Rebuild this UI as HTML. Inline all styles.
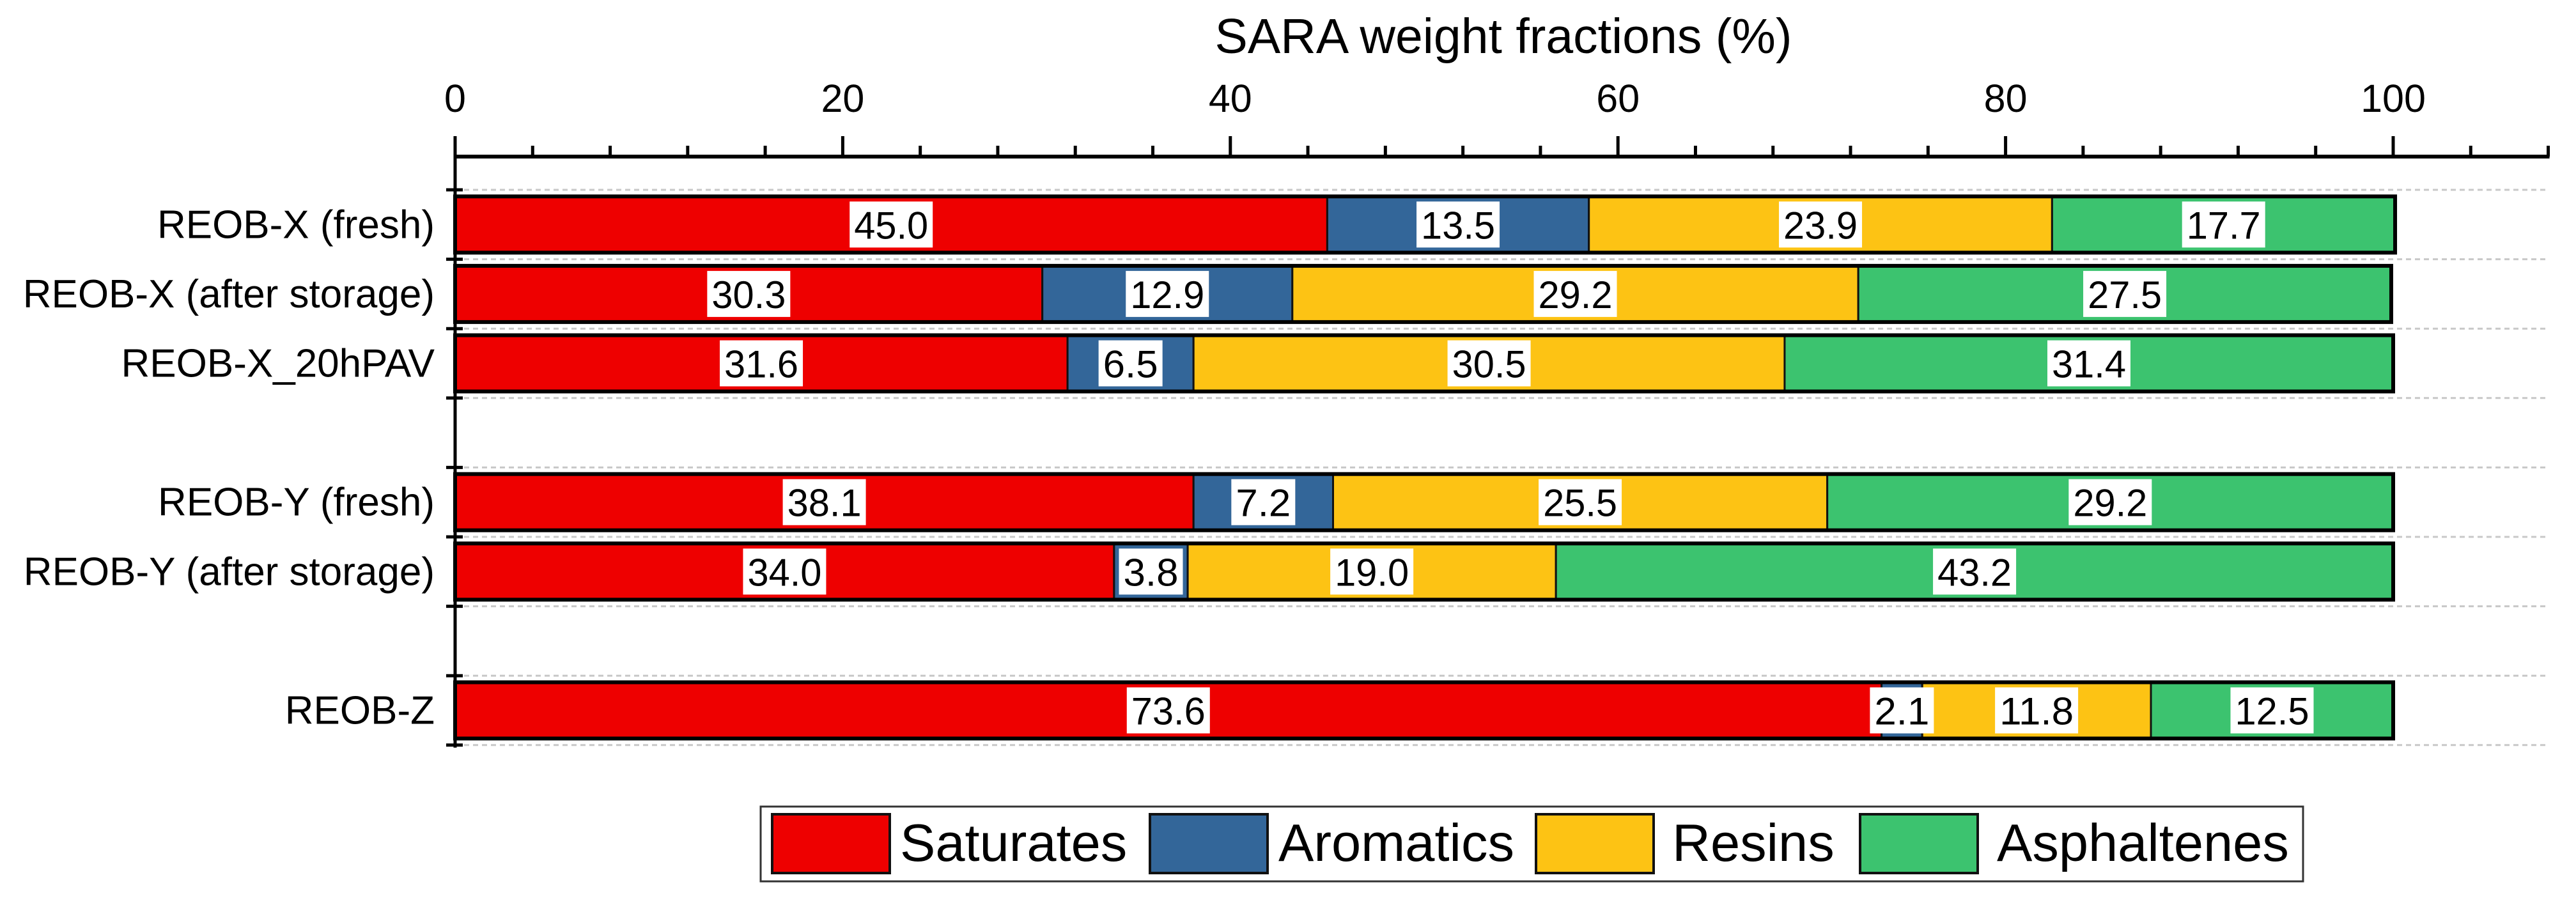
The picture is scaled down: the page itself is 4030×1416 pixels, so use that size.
<!DOCTYPE html>
<html><head><meta charset="utf-8"><style>
html,body{margin:0;padding:0;background:#fff;}
svg{display:block;font-family:"Liberation Sans",Arial,sans-serif;}
</style></head><body>
<svg id="chart" width="4030" height="1416" viewBox="0 0 4030 1416" xmlns="http://www.w3.org/2000/svg">
<text x="2352" y="83" font-size="77" text-anchor="middle">SARA weight fractions (%)</text>
<g id="grid"></g><g id="bars"></g><g id="axes"></g><g id="legend"></g>
</svg>
<script>
const categories = ["REOB-X (fresh)","REOB-X (after storage)","REOB-X_20hPAV","REOB-Y (fresh)","REOB-Y (after storage)","REOB-Z"];
const slots = [1,2,3,5,6,8];
const seriesNames = ["Saturates","Aromatics","Resins","Asphaltenes"];
const saturates = [45.0,30.3,31.6,38.1,34.0,73.6];
const aromatics = [13.5,12.9,6.5,7.2,3.8,2.1];
const resins = [23.9,29.2,30.5,25.5,19.0,11.8];
const asphaltenes = [17.7,27.5,31.4,29.2,43.2,12.5];
const xTicks = [0,20,40,60,80,100];
const colors = ["#EE0000","#336699","#FDC314","#3CC36F"];
const NS="http://www.w3.org/2000/svg";
const X0=712,XS=30.32,Y0=297,YS=108.6,AX=245,XMAX=108;
const xs=v=>X0+v*XS, ys=s=>Y0+(s-0.5)*YS;
function mk(p,tag,at){const e=document.createElementNS(NS,tag);for(const k in at)e.setAttribute(k,at[k]);p.appendChild(e);return e;}
const grid=document.getElementById('grid'),bars=document.getElementById('bars'),axes=document.getElementById('axes'),leg=document.getElementById('legend');
for(let b=0;b<=8;b++){const y=Y0+b*YS;
 const g=mk(grid,'line',{x1:X0,x2:xs(XMAX),y1:y,y2:y,stroke:'#c8c8c8','stroke-width':3,'stroke-dasharray':'8 6'});
 
 
 const t=mk(axes,'line',{x1:X0-14,x2:X0+12,y1:y,y2:y,stroke:'#000','stroke-width':5});
 
 
}
const series=[saturates,aromatics,resins,asphaltenes];
categories.forEach((c,i)=>{
 const yc=ys(slots[i]),h=88;let acc=0;
 const lab=mk(axes,'text',{x:680,y:yc+21,'font-size':62,'text-anchor':'end'});lab.textContent=c;
 
 
 const segs=[];
 series.forEach((s,k)=>{
  const r=mk(bars,'rect',{x:xs(acc),y:yc-h/2,width:xs(acc+s[i])-xs(acc),height:h,fill:colors[k],stroke:'#111','stroke-width':3});
  
  
  segs.push([acc+s[i]/2,s[i]]);acc+=s[i];
 });
 const o=mk(bars,'rect',{x:xs(0),y:yc-h/2,width:xs(acc)-xs(0),height:h,fill:'none',stroke:'#000','stroke-width':6});
 
 
 segs.forEach(([m,v])=>{
  const txt=v.toFixed(1),w=txt.length*30+10;
  const bx=mk(bars,'rect',{x:xs(m)-w/2,y:yc-36,width:w,height:72,fill:'#fff'});
  
  
  const t=mk(bars,'text',{x:xs(m),y:yc+22,'font-size':60,'text-anchor':'middle',textLength:w-14,lengthAdjust:'spacingAndGlyphs'});t.textContent=txt;
  
  
 });
});
let a=mk(axes,'line',{x1:X0,x2:xs(XMAX)+2,y1:AX,y2:AX,stroke:'#000','stroke-width':6});


a=mk(axes,'line',{x1:X0,x2:X0,y1:AX-32,y2:Y0+8*YS+4,stroke:'#000','stroke-width':5});


for(let v=0;v<=XMAX;v+=4){const maj=v%20===0;
 const t=mk(axes,'line',{x1:xs(v),x2:xs(v),y1:AX,y2:AX-(maj?32:17),stroke:'#000','stroke-width':5});
 
 
}
xTicks.forEach(v=>{const t=mk(axes,'text',{x:xs(v),y:175,'font-size':61,'text-anchor':'middle'});t.textContent=v;
 
 });
const lb=mk(leg,'rect',{x:1190,y:1262,width:2413,height:117,fill:'#fff',stroke:'#333','stroke-width':3});


const sw=[1208,1799,2403,2910],tx=[1408,2000,2616,3124];
seriesNames.forEach((n,k)=>{
 const r=mk(leg,'rect',{x:sw[k],y:1274,width:184,height:92,fill:colors[k],stroke:'#111','stroke-width':4});
 
 
 const t=mk(leg,'text',{x:tx[k],y:1347,'font-size':83});t.textContent=n;
 
 
});
</script>
</body></html>
